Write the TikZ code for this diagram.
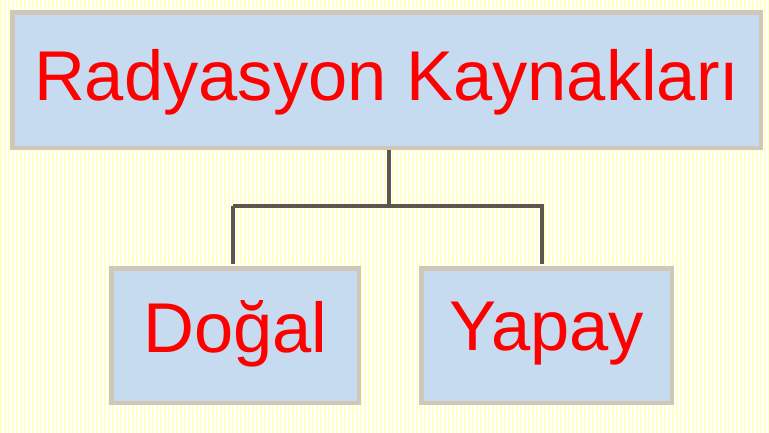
\documentclass[tikz,border=0pt]{standalone}
\usepackage{fontspec}
\setmainfont{Liberation Sans}
\definecolor{boxfill}{HTML}{C6DBEF}
\definecolor{boxborder}{HTML}{CFC8B9}
\definecolor{linkcol}{HTML}{5E564E}
\definecolor{stripe}{HTML}{FFFFC8}
\tikzset{
  box/.style={draw=boxborder, line width=4.5pt, fill=boxfill, inner sep=0pt, anchor=north west},
  lbl/.style={text=red, font=\fontsize{70.5}{80}\selectfont},
  link/.style={draw=linkcol, line width=4pt}
}
\begin{document}
\begin{tikzpicture}[x=1pt,y=-1pt]
\useasboundingbox (0,0) rectangle (769,433);
\fill[white] (0,0) rectangle (769,433);
\foreach \i in {0,4,...,768} {\fill[stripe] (\i,0) rectangle (\i+2,433);}
\node[box, minimum width=748.5pt, minimum height=135.5pt] (top) at (10.25,10.25) {};
\node[lbl] at ([yshift=-2pt]top.center) {Radyasyon Kaynakları};
\node[box, minimum width=247.5pt, minimum height=134.5pt] (dogal) at (109.25,266.25) {};
\node[lbl] at ([yshift=2pt]dogal.center) {Doğal};
\node[box, minimum width=250.5pt, minimum height=134.5pt] (yapay) at (419.25,266.25) {};
\node[lbl] at ([yshift=2pt]yapay.center) {Yapay};
\coordinate (mid) at (389,206);
\draw[link] (top.south -| mid) -- (mid);
\draw[link] (233,206) -| (233,264) (233,206) -- (542,206) -- (542,264);
\end{tikzpicture}
\end{document}
